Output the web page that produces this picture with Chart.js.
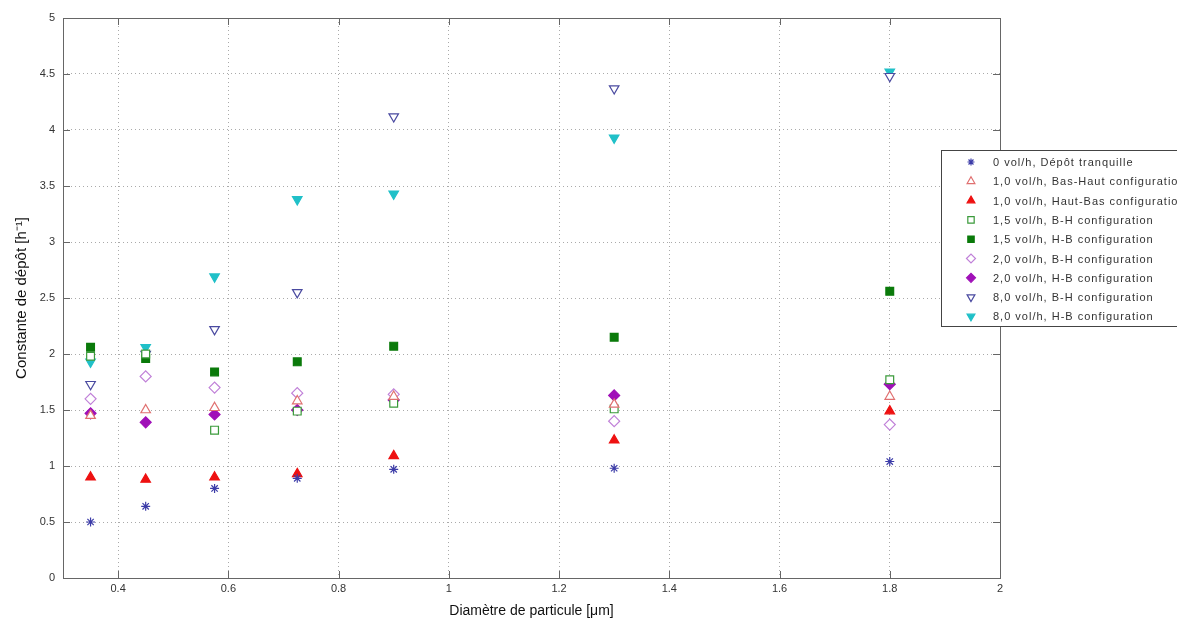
<!DOCTYPE html>
<html><head><meta charset="utf-8">
<script src="https://cdn.jsdelivr.net/npm/chart.js@4.4.1/dist/chart.umd.min.js"></script>
<style>html,body{margin:0;padding:0;background:#fff}#w{width:1177px;height:620px}</style>
</head><body><div id="w"><canvas id="c" width="1177" height="620"></canvas></div>
<script>
const diameters = [0.35, 0.45, 0.575, 0.725, 0.9, 1.3, 1.8];
const labels = [
 "0 vol/h, Dépôt tranquille",
 "1,0 vol/h, Bas-Haut configuration",
 "1,0 vol/h, Haut-Bas configuration",
 "1,5 vol/h, B-H configuration",
 "1,5 vol/h, H-B configuration",
 "2,0 vol/h, B-H configuration",
 "2,0 vol/h, H-B configuration",
 "8,0 vol/h, B-H configuration",
 "8,0 vol/h, H-B configuration"
];
const s0     = [0.50, 0.64, 0.80, 0.89, 0.97, 0.98, 1.04];
const s10BH  = [1.45, 1.50, 1.52, 1.58, 1.62, 1.55, 1.62];
const s10HB  = [0.90, 0.88, 0.90, 0.93, 1.09, 1.23, 1.49];
const s15BH  = [1.98, 2.00, 1.32, 1.49, 1.56, 1.51, 1.77];
const s15HB  = [2.06, 1.96, 1.84, 1.93, 2.07, 2.15, 2.56];
const s20BH  = [1.60, 1.80, 1.70, 1.65, 1.64, 1.40, 1.37];
const s20HB  = [1.47, 1.39, 1.46, 1.50, 1.59, 1.63, 1.73];
const s80BH  = [1.73, 2.00, 2.22, 2.55, 4.12, 4.37, 4.48];
const s80HB  = [1.93, 2.06, 2.69, 3.38, 3.43, 3.93, 4.52];
const xTicks = [0.4, 0.6, 0.8, 1, 1.2, 1.4, 1.6, 1.8, 2];
const yTicks = [0, 0.5, 1, 1.5, 2, 2.5, 3, 3.5, 4, 4.5, 5];

const series = [s0, s10BH, s10HB, s15BH, s15HB, s20BH, s20HB, s80BH, s80HB];
const styles = [
 {ps:'star', c:'#3c3ca8', f:'#3c3ca8', r:4.5, rot:0},
 {ps:'triangle', c:'#e07070', f:'#ffffff', r:5.5, rot:0},
 {ps:'triangle', c:'#ee1111', f:'#ee1111', r:5.5, rot:0},
 {ps:'rect', c:'#3a9a3a', f:'#ffffff', r:5.5, rot:0},
 {ps:'rect', c:'#0a7a0a', f:'#0a7a0a', r:5.5, rot:0},
 {ps:'rectRot', c:'#c080d8', f:'#ffffff', r:5.5, rot:0},
 {ps:'rectRot', c:'#a010b8', f:'#a010b8', r:5.5, rot:0},
 {ps:'triangle', c:'#4a4aa0', f:'#ffffff', r:5.5, rot:180},
 {ps:'triangle', c:'#20c0c8', f:'#20c0c8', r:5.5, rot:180}
];

const datasets = series.map((s, i) => ({
  label: labels[i],
  data: diameters.map((d, j) => ({x: d, y: s[j]})),
  pointStyle: styles[i].ps,
  pointRotation: styles[i].rot,
  pointRadius: styles[i].r,
  pointBorderColor: styles[i].c,
  pointBackgroundColor: styles[i].f,
  pointBorderWidth: 1.2,
  showLine: false
}));

const frame = {
  id: 'frame',
  afterDraw(chart) {
    const {ctx, chartArea: a, scales} = chart;
    ctx.save();
    ctx.strokeStyle = '#666';
    ctx.lineWidth = 1;
    ctx.strokeRect(a.left + 0.5, a.top + 0.5, a.right - a.left, a.bottom - a.top);
    ctx.beginPath();
    xTicks.forEach(t => {
      const x = Math.round(scales.x.getPixelForValue(t)) + 0.5;
      ctx.moveTo(x, a.bottom); ctx.lineTo(x, a.bottom - 7);
      ctx.moveTo(x, a.top); ctx.lineTo(x, a.top + 7);
    });
    yTicks.forEach(t => {
      const y = Math.round(scales.y.getPixelForValue(t)) + 0.5;
      ctx.moveTo(a.left, y); ctx.lineTo(a.left + 7, y);
      ctx.moveTo(a.right, y); ctx.lineTo(a.right - 7, y);
    });
    ctx.stroke();
    // legend box
    const lx = 941, ly = 150, lw = 260, lh = 176;
    ctx.fillStyle = '#fff';
    ctx.fillRect(lx, ly, lw, lh);
    ctx.strokeStyle = '#444';
    ctx.strokeRect(lx + 0.5, ly + 0.5, lw, lh);
    ctx.font = '11px "Liberation Sans", Arial, sans-serif';
    ctx.letterSpacing = '1px';
    ctx.textBaseline = 'middle';
    ctx.textAlign = 'left';
    labels.forEach((lab, i) => {
      const y = 162 + i * 19.3;
      const st = styles[i];
      ctx.strokeStyle = st.c; ctx.fillStyle = st.f; ctx.lineWidth = 1.2;
      Chart.helpers.drawPoint(ctx, {pointStyle: st.ps, rotation: st.rot, radius: st.r - 1, borderWidth: 1.2}, 971, y);
      ctx.fillStyle = '#333';
      ctx.fillText(lab, 993, y + 1);
    });
    ctx.restore();
  }
};

new Chart(document.getElementById('c'), {
  type: 'scatter',
  data: {datasets},
  plugins: [frame],
  options: {
    responsive: false,
    animation: false,
    layout: {padding: {left: 0, right: 177, top: 18, bottom: 0}},
    plugins: {legend: {display: false}, tooltip: {enabled: false}},
    scales: {
      x: {
        type: 'linear', min: 0.3, max: 2,
        afterBuildTicks: ax => { ax.ticks = xTicks.map(v => ({value: v})); },
        afterFit: ax => { ax.height = 42; },
        ticks: {color: '#333', font: {family: '"Liberation Sans", Arial, sans-serif', size: 11}, padding: 4,
                callback: v => String(v)},
        grid: {color: '#aaa', drawTicks: false, lineWidth: 1},
        border: {display: false, dash: [1, 3]},
        title: {display: true, text: 'Diamètre de particule [μm]', color: '#111',
                font: {family: '"Liberation Sans", Arial, sans-serif', size: 14}, padding: {top: 0, bottom: 0}}
      },
      y: {
        type: 'linear', min: 0, max: 5,
        afterBuildTicks: ax => { ax.ticks = yTicks.map(v => ({value: v})); },
        afterFit: ax => { ax.width = 63; },
        ticks: {color: '#333', font: {family: '"Liberation Sans", Arial, sans-serif', size: 11}, padding: 8,
                callback: v => String(v)},
        grid: {color: '#aaa', drawTicks: false, lineWidth: 1},
        border: {display: false, dash: [1, 3]},
        title: {display: true, text: 'Constante de dépôt [h⁻¹]', color: '#111',
                font: {family: '"Liberation Sans", Arial, sans-serif', size: 15}, padding: {top: 13, bottom: 0}}
      }
    }
  }
});
</script>
</body></html>
